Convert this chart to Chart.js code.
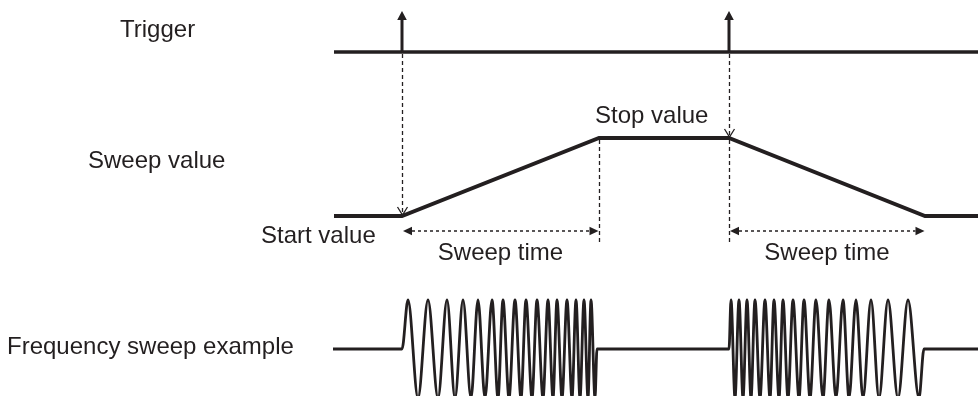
<!DOCTYPE html>
<html>
<head>
<meta charset="utf-8">
<title>Sweep timing</title>
<script src="https://cdn.jsdelivr.net/npm/chart.js@4.4.0/dist/chart.umd.min.js"></script>
<style>
  html, body { margin: 0; padding: 0; background: #fff; }
  #wrap { position: relative; width: 978px; height: 396px; }
</style>
</head>
<body>
<div id="wrap"><canvas id="sweepChart"></canvas></div>
<script>
// timing diagram: trigger -> sweep value -> frequency sweep example

const INK = '#231f20';
const FONT = '24px "Liberation Sans", Arial, Helvetica, sans-serif';

// --- DATA (time in arbitrary units) ---
const rowLabels = ['Trigger', 'Sweep value', 'Frequency sweep example'];
const sweepTexts = ['Start value', 'Stop value', 'Sweep time'];

// trigger line and trigger events
const triggerSpan = [334, 978];
const triggerTimes = [402, 729];

// sweep value: 0 = start value, 1 = stop value
const sweepTimes = [334, 402, 599, 729, 925, 978];
const sweepLevels = [0, 0, 1, 1, 0, 0];

// frequency sweep: peaks (+1) / troughs (-1) of the two bursts
const freqTimes = [
  333, 402,
  408, 418, 428, 438, 447, 455, 463, 471, 478, 485, 492, 498, 503, 509,
  515, 521, 526, 532, 537, 543, 548, 553, 557, 562, 567, 572, 576, 580, 584, 588,
  591, 595, 597,
  729,
  731, 735, 739, 743, 747, 751, 755, 760, 765, 770, 774, 779, 783, 788, 793, 799,
  804, 810, 816, 823, 829, 836, 843, 849, 856, 863, 871, 879, 888, 898, 908, 919,
  924, 978
];
const freqLevels = [
  0, 0,
  1, -1, 1, -1, 1, -1, 1, -1, 1, -1, 1, -1, 1, -1,
  1, -1, 1, -1, 1, -1, 1, -1, 1, -1, 1, -1, 1, -1, 1, -1,
  1, -1, 0,
  0,
  1, -1, 1, -1, 1, -1, 1, -1, 1, -1, 1, -1, 1, -1, 1, -1,
  1, -1, 1, -1, 1, -1, 1, -1, 1, -1, 1, -1, 1, -1, 1, -1,
  0, 0
];

// --- HELPERS ---
const H = 396;
// y range so that level 0 sits at `base` px and one unit is `unit` px
function rowRange(base, unit) {
  return { min: (base - H) / unit, max: base / unit };
}

function toPoints(xs, ys) {
  return xs.map((x, i) => ({ x, y: ys[i] }));
}

function filledHead(ctx, x, y, dx, dy, len, half) {
  const bx = x - dx * len, by = y - dy * len;
  ctx.beginPath();
  ctx.moveTo(x, y);
  ctx.lineTo(bx - dy * half, by + dx * half);
  ctx.lineTo(bx + dy * half, by - dx * half);
  ctx.closePath();
  ctx.fill();
}

function openHead(ctx, x, y, dx, dy, len, half) {
  const bx = x - dx * len, by = y - dy * len;
  ctx.beginPath();
  ctx.moveTo(bx - dy * half, by + dx * half);
  ctx.lineTo(x, y);
  ctx.lineTo(bx + dy * half, by - dx * half);
  ctx.stroke();
}

function levelAt(t) {
  return sweepLevels[sweepTimes.indexOf(t)];
}

// --- ANNOTATION PLUGIN ---
const sweepMarks = {
  id: 'sweepMarks',
  afterDatasetsDraw(chart, args, opts) {
    const { ctx, scales } = chart;
    const xs = scales.x, yT = scales.yTrig, yS = scales.ySweep;
    ctx.save();
    ctx.strokeStyle = INK;
    ctx.fillStyle = INK;

    // arrow heads on trigger pulses
    triggerTimes.forEach(t => {
      filledHead(ctx, xs.getPixelForValue(t), yT.getPixelForValue(1), 0, -1, 9, 4.8);
    });

    // dashed connectors trigger -> sweep value
    ctx.lineWidth = 1.3;
    triggerTimes.forEach(t => {
      const px = Math.round(xs.getPixelForValue(t)) + 0.5;
      const y0 = yT.getPixelForValue(0) + 2;
      const y1 = yS.getPixelForValue(levelAt(t)) - 1;
      ctx.setLineDash([4, 3]);
      ctx.beginPath(); ctx.moveTo(px, y0); ctx.lineTo(px, y1); ctx.stroke();
      ctx.setLineDash([]);
      openHead(ctx, px, y1, 0, 1, 8, 5);
    });

    // ramps: guides + sweep time dimension arrows
    const dimY = yS.getPixelForValue(0) + opts.dimOffset;
    const guideEnd = yS.getPixelForValue(0) + opts.guideDrop;
    ctx.font = FONT;
    for (let i = 0; i < sweepTimes.length - 1; i++) {
      if (sweepLevels[i] === sweepLevels[i + 1]) continue;
      const a = xs.getPixelForValue(sweepTimes[i]);
      const b = xs.getPixelForValue(sweepTimes[i + 1]);
      [[sweepTimes[i], sweepLevels[i]], [sweepTimes[i + 1], sweepLevels[i + 1]]].forEach(([t, lv]) => {
        if (lv !== 1) return;
        const px = Math.round(xs.getPixelForValue(t)) + 0.5;
        ctx.setLineDash([4, 3]);
        ctx.beginPath(); ctx.moveTo(px, yS.getPixelForValue(1) + 2); ctx.lineTo(px, guideEnd); ctx.stroke();
      });
      const l = a + 1, r = b - 0.5;
      ctx.setLineDash([3, 3]);
      ctx.beginPath(); ctx.moveTo(l + 9, dimY); ctx.lineTo(r - 9, dimY); ctx.stroke();
      ctx.setLineDash([]);
      filledHead(ctx, l, dimY, -1, 0, 9, 4.3);
      filledHead(ctx, r, dimY, 1, 0, 9, 4.3);
      ctx.textAlign = 'center';
      ctx.textBaseline = 'alphabetic';
      ctx.fillText(sweepTexts[2], (a + b) / 2, yS.getPixelForValue(0) + opts.dimTextDrop);
    }

    // texts
    ctx.textAlign = 'left';
    ctx.textBaseline = 'alphabetic';
    rowLabels.forEach((s, i) => ctx.fillText(s, opts.rowLabelPos[i][0], opts.rowLabelPos[i][1]));
    ctx.fillText(sweepTexts[0], opts.startPos[0], opts.startPos[1]);
    ctx.fillText(sweepTexts[1], opts.stopPos[0], opts.stopPos[1]);
    ctx.restore();
  }
};

// --- CHART ---
const lineBase = { pointRadius: 0, borderColor: INK, fill: false, tension: 0 };

const datasets = [
  {
    ...lineBase,
    label: 'Trigger',
    data: toPoints(triggerSpan, [0, 0]),
    yAxisID: 'yTrig',
    borderWidth: 3.5
  },
  ...triggerTimes.map(t => ({
    ...lineBase,
    label: 'Trigger pulse',
    data: toPoints([t, t], [0, 0.85]),
    yAxisID: 'yTrig',
    borderWidth: 3,
    borderCapStyle: 'butt'
  })),
  {
    ...lineBase,
    label: 'Sweep value',
    data: toPoints(sweepTimes, sweepLevels),
    yAxisID: 'ySweep',
    borderWidth: 3.8,
    borderJoinStyle: 'miter'
  },
  {
    ...lineBase,
    label: 'Frequency sweep example',
    data: toPoints(freqTimes, freqLevels),
    yAxisID: 'yFreq',
    borderWidth: 2.8,
    cubicInterpolationMode: 'monotone'
  }
];

new Chart(document.getElementById('sweepChart'), {
  type: 'line',
  data: { datasets },
  options: {
    responsive: true,
    maintainAspectRatio: false,
    animation: false,
    devicePixelRatio: 1,
    layout: { padding: 0 },
    scales: {
      x: { type: 'linear', display: false, min: 0, max: 978 },
      yTrig: { type: 'linear', display: false, ...rowRange(52, 41) },
      ySweep: { type: 'linear', display: false, ...rowRange(216, 78) },
      yFreq: { type: 'linear', display: false, ...rowRange(349, 49) }
    },
    plugins: {
      legend: { display: false },
      tooltip: { enabled: false },
      sweepMarks: {
        dimOffset: 15,
        guideDrop: 29,
        dimTextDrop: 44,
        rowLabelPos: [[120, 37], [88, 168], [7, 354]],
        startPos: [261, 243],
        stopPos: [595, 123]
      }
    }
  },
  plugins: [sweepMarks]
});
</script>
</body>
</html>
